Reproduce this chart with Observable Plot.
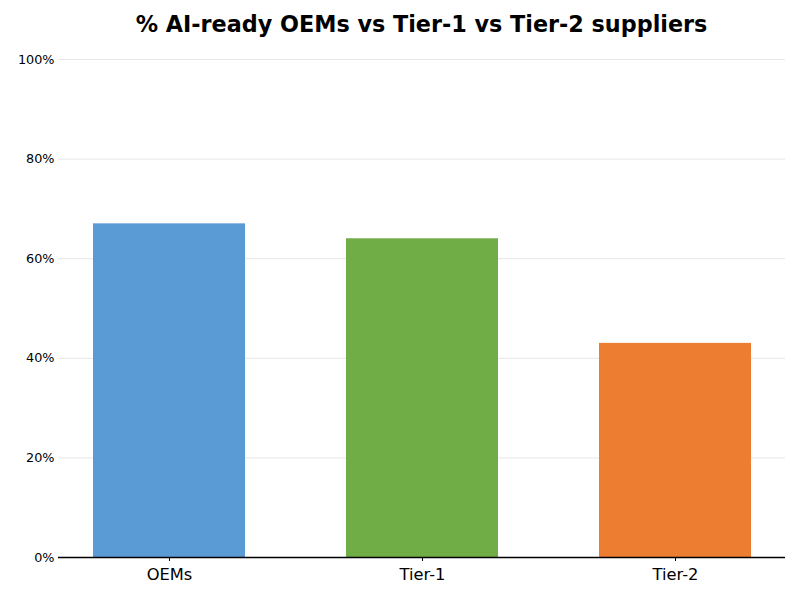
<!DOCTYPE html>
<html>
<head>
<meta charset="utf-8">
<script src="https://cdn.jsdelivr.net/npm/d3@7"></script>
<script src="https://cdn.jsdelivr.net/npm/@observablehq/plot@0.6"></script>
<style>
  html, body { margin: 0; padding: 0; background: #fff; }
  #wrap { width: 800px; height: 600px; font-family: "DejaVu Sans", sans-serif; }
  #title { height: 40px; box-sizing: border-box; padding: 11px 15px 0 58px; text-align: center;
           font-size: 22.3px; font-weight: bold; line-height: 27px; color: #000; white-space: nowrap; }
  svg { display: block; }
  #chart g[aria-label="y-axis tick label"] text { font-size: 12.8px; font-family: "DejaVu Sans", sans-serif; }
  #chart g[aria-label="x-axis tick label"] text { font-size: 16.3px; font-family: "DejaVu Sans", sans-serif; }
</style>
</head>
<body>
<div id="wrap">
  <div id="title">% AI-ready OEMs vs Tier-1 vs Tier-2 suppliers</div>
  <div id="chart"></div>
</div>
<script>
const categories = ["OEMs", "Tier-1", "Tier-2"];
const values = [67, 64, 43];
const colors = ["#5B9BD5", "#70AD47", "#ED7D31"];
const yTicks = [0, 20, 40, 60, 80, 100];

const data = categories.map((c, i) => ({category: c, value: values[i], color: colors[i]}));

const chart = Plot.plot({
  width: 800,
  height: 560,
  marginLeft: 58,
  marginRight: 15,
  marginTop: 19,
  marginBottom: 43,
  style: {fontFamily: "DejaVu Sans, sans-serif", fontSize: "13px", background: "#fff", color: "#000"},
  x: {domain: categories, paddingInner: 0.4, paddingOuter: 0.134, label: null},
  y: {domain: [0, 100], label: null},
  marks: [
    Plot.gridY(yTicks, {stroke: "#e6e6e6", strokeOpacity: 1, strokeWidth: 1}),
    Plot.barY(data, {x: "category", y: "value", fill: "color"}),
    Plot.ruleY([0], {stroke: "#000", strokeWidth: 1.5}),
    Plot.axisY(yTicks, {tickSize: 0, tickPadding: 4, fontSize: 13, tickFormat: d => d + "%", label: null}),
    Plot.axisX({tickSize: 4, tickPadding: 7, fontSize: 16, label: null})
  ]
});
document.getElementById("chart").appendChild(chart);
</script>
</body>
</html>
